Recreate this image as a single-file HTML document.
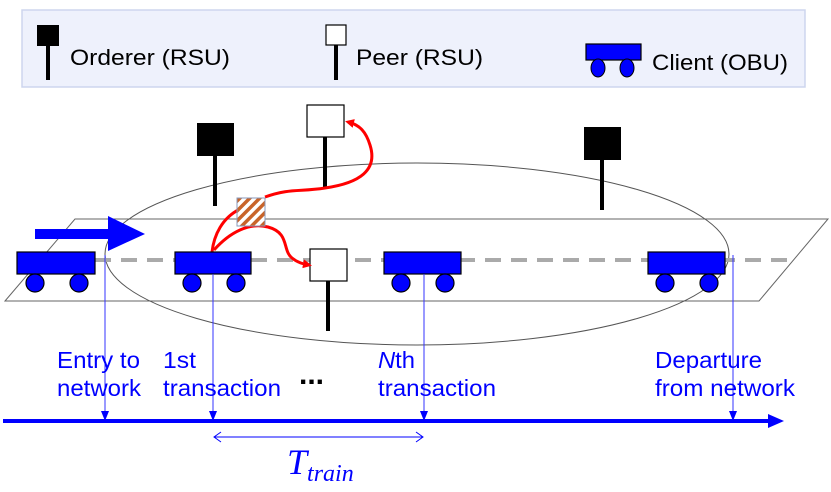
<!DOCTYPE html>
<html><head><meta charset="utf-8"><style>
html,body{margin:0;padding:0;background:#fff;width:831px;height:492px;overflow:hidden}
svg{display:block;font-family:"Liberation Sans",sans-serif}
</style></head><body>
<svg width="831" height="492" viewBox="0 0 831 492" xmlns="http://www.w3.org/2000/svg">
<defs>
<pattern id="h" width="7" height="7" patternUnits="userSpaceOnUse" patternTransform="rotate(45)">
<rect width="7" height="7" fill="#fff"/><rect width="3.5" height="7" fill="#c8642a"/>
</pattern>
<marker id="ra" markerWidth="9" markerHeight="9" refX="6" refY="4.5" orient="auto" markerUnits="userSpaceOnUse"><path d="M0,0 L9,4.5 L0,9 Z" fill="#f00"/></marker>
</defs>
<!-- legend -->
<rect x="22" y="10" width="783" height="77" fill="#eef1fc" stroke="#cdd5ee" stroke-width="1.5"/>
<rect x="37" y="25" width="22" height="21" fill="#000"/>
<rect x="46" y="46" width="4" height="34" fill="#000"/>
<text x="70" y="65" font-size="22" textLength="160" lengthAdjust="spacingAndGlyphs">Orderer (RSU)</text>
<rect x="326" y="25" width="20" height="20" fill="#fff" stroke="#000" stroke-width="1.2"/>
<rect x="334" y="45" width="4" height="35" fill="#000"/>
<text x="356" y="65" font-size="22" textLength="127" lengthAdjust="spacingAndGlyphs">Peer (RSU)</text>
<rect x="586" y="44" width="55" height="16" fill="#00f" stroke="#000" stroke-width="1.2"/>
<ellipse cx="598" cy="68" rx="7" ry="9" fill="#00f" stroke="#000"/>
<ellipse cx="627" cy="68" rx="7" ry="9" fill="#00f" stroke="#000"/>
<text x="652" y="70" font-size="22" textLength="136" lengthAdjust="spacingAndGlyphs">Client (OBU)</text>
<!-- road -->
<polygon points="5,301 75,219 828,219 759,301" fill="none" stroke="#666" stroke-width="1"/>
<ellipse cx="417" cy="254" rx="312" ry="91" fill="none" stroke="#555" stroke-width="1"/>
<line x1="95" y1="260" x2="790" y2="260" stroke="#aaa" stroke-width="4" stroke-dasharray="16,10"/>
<!-- arrow -->
<polygon points="35,229 108,229 108,216 145,234 108,251 108,239 35,239" fill="#00f"/>
<!-- orderers -->
<rect x="197" y="123" width="37" height="33" fill="#000"/>
<rect x="213" y="156" width="4" height="50" fill="#000"/>
<rect x="584" y="127" width="37" height="33" fill="#000"/>
<rect x="600" y="160" width="4" height="50" fill="#000"/>
<!-- peers -->
<rect x="307" y="105" width="37" height="32" fill="#fff" stroke="#000" stroke-width="1.2"/>
<rect x="323" y="137" width="4" height="51" fill="#000"/>
<rect x="310" y="249" width="37" height="32" fill="#fff" stroke="#000" stroke-width="1.2"/>
<rect x="326" y="281" width="4" height="50" fill="#000"/>
<!-- red curves -->
<path d="M212,252 C214,235 222,218 240,209 M265,197 C290,188 300,192 325,188 C360,183 378,170 370,145 C366,132 360,125 348,122" fill="none" stroke="#f00" stroke-width="3" marker-end="url(#ra)"/>
<path d="M214,250 C230,232 250,222 268,227 C290,233 282,250 292,258 C298,263 304,264 309,265" fill="none" stroke="#f00" stroke-width="3" marker-end="url(#ra)"/>
<rect x="237" y="198" width="28" height="28" fill="url(#h)" stroke="#8899bb" stroke-width="1"/>
<!-- cars -->
<g fill="#00f" stroke="#000" stroke-width="1.2">
<rect x="17" y="252" width="78" height="22"/><circle cx="35" cy="283" r="9"/><circle cx="79" cy="283" r="9"/>
<rect x="175" y="252" width="76" height="22"/><circle cx="192" cy="283" r="9"/><circle cx="236" cy="283" r="9"/>
<rect x="384" y="252" width="77" height="22"/><circle cx="401" cy="283" r="9"/><circle cx="445" cy="283" r="9"/>
<rect x="648" y="252" width="77" height="22"/><circle cx="665" cy="283" r="9"/><circle cx="709" cy="283" r="9"/>
</g>
<!-- vertical lines -->
<g stroke="#33f" stroke-width="1">
<line x1="105" y1="255" x2="105" y2="414"/>
<line x1="213" y1="274" x2="213" y2="414"/>
<line x1="424" y1="274" x2="424" y2="414"/>
<line x1="733" y1="255" x2="733" y2="414"/>
</g>
<g fill="#00f">
<polygon points="101,411 109,411 105,421"/>
<polygon points="209,411 217,411 213,421"/>
<polygon points="420,411 428,411 424,421"/>
<polygon points="729,411 737,411 733,421"/>
</g>
<line x1="3" y1="421" x2="770" y2="421" stroke="#00f" stroke-width="4"/>
<polygon points="768,414 784,421 768,428" fill="#00f"/>
<!-- labels -->
<g fill="#00f" font-size="23" lengthAdjust="spacingAndGlyphs">
<text x="57" y="368" textLength="83" lengthAdjust="spacingAndGlyphs">Entry to</text><text x="57" y="396" textLength="84" lengthAdjust="spacingAndGlyphs">network</text>
<text x="163" y="368" textLength="33" lengthAdjust="spacingAndGlyphs">1st</text><text x="163" y="396" textLength="118" lengthAdjust="spacingAndGlyphs">transaction</text>
<text x="378" y="368" textLength="37" lengthAdjust="spacingAndGlyphs"><tspan font-style="italic">N</tspan>th</text><text x="378" y="396" textLength="118" lengthAdjust="spacingAndGlyphs">transaction</text>
<text x="655" y="368" textLength="107" lengthAdjust="spacingAndGlyphs">Departure</text><text x="655" y="396" textLength="140" lengthAdjust="spacingAndGlyphs">from network</text>
</g>
<text x="299" y="384" font-size="30" font-weight="bold" fill="#000">...</text>
<!-- double arrow -->
<line x1="214" y1="437" x2="423" y2="437" stroke="#00f" stroke-width="1"/>
<polyline points="221,432 214,437 221,442" fill="none" stroke="#00f"/>
<polyline points="416,432 423,437 416,442" fill="none" stroke="#00f"/>
<text x="287" y="474" fill="#00f" font-family="Liberation Serif,serif" font-style="italic" font-size="36">T<tspan font-size="24" dy="7">train</tspan></text>
</svg>
</body></html>
